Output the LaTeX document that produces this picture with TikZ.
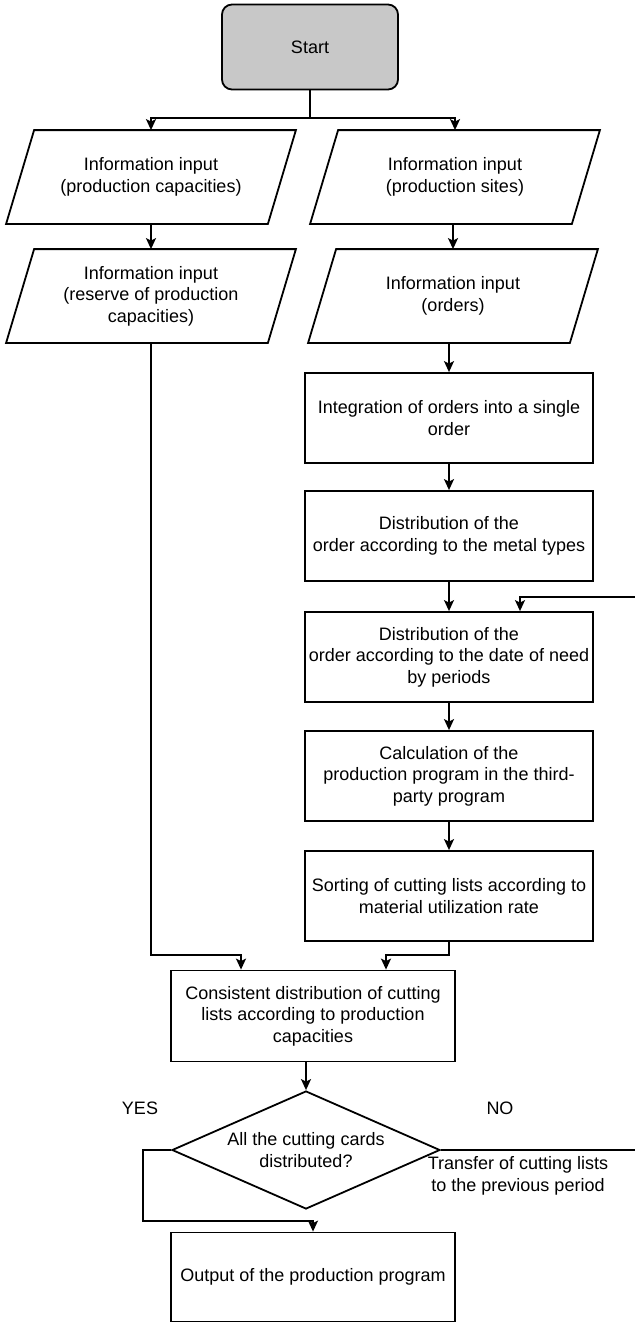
\documentclass[tikz,border=0pt]{standalone}
\usepackage{fontspec}
\setmainfont{Liberation Sans}
\usepackage{xcolor}
\usetikzlibrary{arrows.meta, positioning, shapes.geometric, calc}
\definecolor{startgray}{RGB}{200,200,200}

\begin{document}
\begin{tikzpicture}[
  x=0.5pt, y=-0.5pt, line width=0.9pt,
  every node/.style={font=\fontsize{9}{10.8}\selectfont, align=center, inner sep=2pt},
  term/.style={draw, rounded corners=5pt, fill=startgray, minimum width=88pt, minimum height=42.5pt},
  io/.style={rectangle, minimum width=130pt, minimum height=46pt},
  proc/.style={draw, rectangle, minimum width=144pt, minimum height=45pt},
  decide/.style={draw, diamond, aspect=2.27, inner sep=0pt, minimum width=134pt, minimum height=59pt},
  note/.style={inner sep=0pt},
  arr/.style={-{Stealth[length=5.5pt, width=5pt, inset=1.2pt]}},
]
\useasboundingbox (0,0) rectangle (635,1324);

% start
\node[term] (start) at (310,47) {Start};

% inputs
\node[io] (pl1) at (151,177) {Information input\\(production capacities)};
\node[io] (pl2) at (151,296) {Information input\\(reserve of production\\capacities)};
\node[io] (pr1) at (455,177) {Information input\\(production sites)};
\node[io] (pr2) at (453,296) {Information input\\(orders)};

% input frames (parallelograms)
\foreach \n in {pl1,pl2,pr1,pr2}
  \draw ($(\n.south west)+(-14,0)$) -- ($(\n.north west)+(14,0)$)
     -- ($(\n.north east)+(14,0)$) -- ($(\n.south east)+(-14,0)$) -- cycle;

% order processing
\node[proc] (integ) at (449,418) {Integration of orders into a single\\order};
\node[proc] (metal) at (449,536) {Distribution of the\\order according to the metal types};
\node[proc] (date)  at (449,657) {Distribution of the\\order according to the date of need\\by periods};
\node[proc] (calc)  at (449,776) {Calculation of the\\production program in the third-\\party program};
\node[proc] (sort)  at (449,896) {Sorting of cutting lists according to\\material utilization rate};

% distribution and check
\node[proc, minimum width=142pt, minimum height=45.5pt] (cons) at (313,1016)
  {Consistent distribution of cutting\\lists according to production\\capacities};
\node[decide] (dec) at (306,1150) {All the cutting cards\\distributed?};
\node[proc, minimum width=142pt, minimum height=44.5pt] (out) at (313,1277)
  {Output of the production program};

\node[note] (yes) at (140,1108) {YES};
\node[note] (no) at (500,1108) {NO};
\node[note] (transfer) at (518,1176) {Transfer of cutting lists\\to the previous period};

% joints
\coordinate (split) at (310,118);
\coordinate (joinL) at (241,955);
\coordinate (joinR) at (386,955);
\coordinate (back) at (520,597);

% connectors
\draw (start) -- (split);
\draw[arr] (split) -| (pl1);
\draw[arr] (split) -| (pr1);
\draw[arr] (pl1) -- (pl2);
\draw[arr] (pr1.south -| pr2.north) -- (pr2.north);
\draw[arr] (pr2.south -| integ.north) -- (integ.north);
\draw[arr] (integ) -- (metal);
\draw[arr] (metal) -- (date);
\draw[arr] (date) -- (calc);
\draw[arr] (calc) -- (sort);
\draw[arr] (pl2.south) |- (joinL) -- (joinL |- cons.north);
\draw[arr] (sort.south) |- (joinR) -- (joinR |- cons.north);
\draw[arr] (cons.south -| dec.north) -- (dec.north);
\draw[arr] (dec.west) -- ++(-28,0) |- ($(out.north)+(0,-11)$) -- (out.north);
\draw[arr] (dec.east) -- (637,1150) |- (back) -- (back |- date.north);

\end{tikzpicture}
\end{document}
